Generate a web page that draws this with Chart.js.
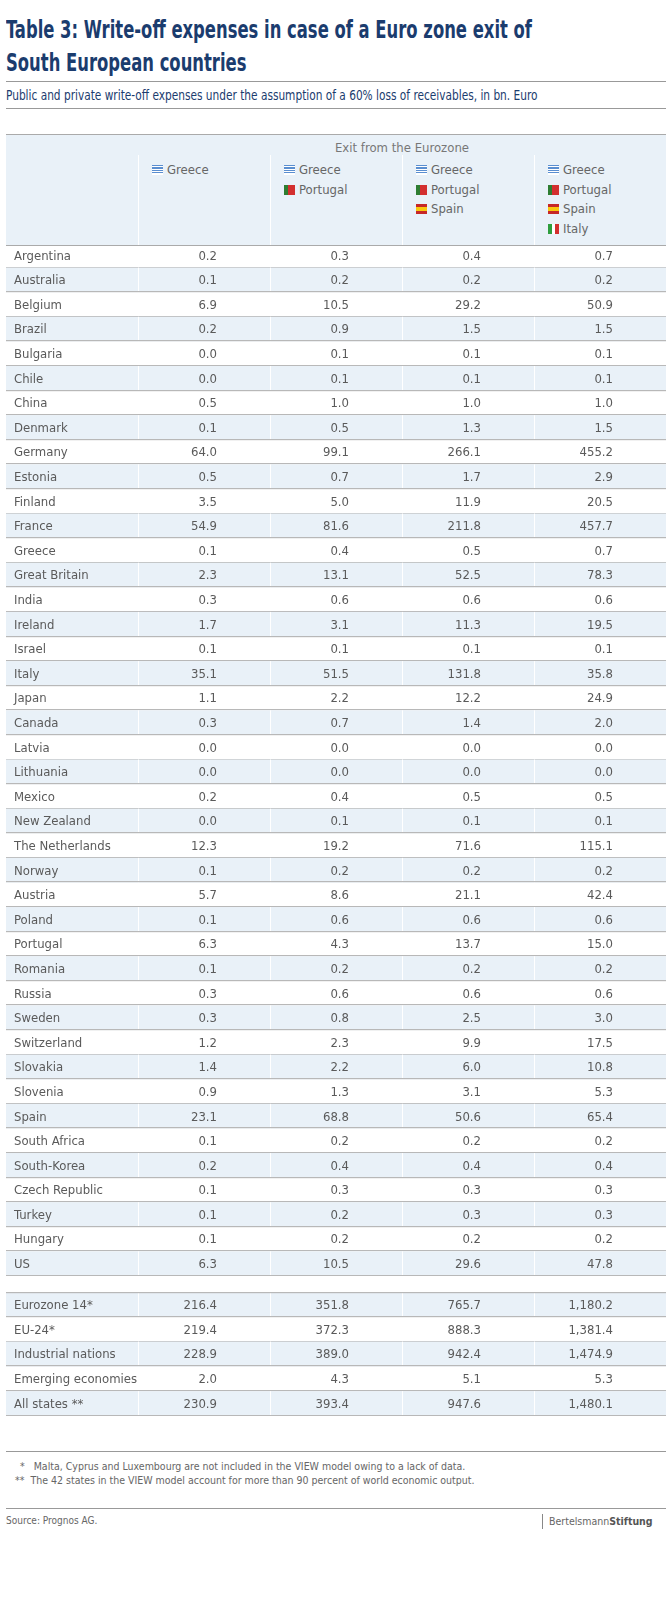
<!DOCTYPE html>
<html>
<head>
<meta charset="utf-8">
<script src="https://cdn.jsdelivr.net/npm/chart.js@4"></script>
<style>
  body { margin: 0; background: #fff; font-family: "DejaVu Sans Condensed", "Liberation Sans Narrow", Roboto, sans-serif; color: #555; }
  #page { position: relative; width: 669px; height: 1600px; overflow: hidden; }
  .abs { position: absolute; }
  h1 { position: absolute; left: 6px; top: 14px; margin: 0; font-size: 24px; line-height: 33px; color: #1b3c6e; font-weight: bold; white-space: nowrap; transform: scaleX(0.76); transform-origin: left top; }
  .rule { position: absolute; left: 6px; width: 660px; height: 0; border-top: 1px solid #999; }
  #sub { left: 6px; top: 87px; font-size: 14px; color: #1b3c6e; white-space: nowrap; transform: scaleX(0.84); transform-origin: left top; }
  #head { left: 6px; top: 134px; width: 660px; height: 110px; background: #e9f1f8; border-top: 1px solid #aaa; border-bottom: 1px solid #aaa; }
  #head .sep { position: absolute; top: 20px; bottom: 0; width: 1px; background: #fff; }
  #exit { left: 138px; width: 528px; top: 140px; text-align: center; font-size: 13px; color: #777; }
  .cell { position: absolute; font-size: 13px; color: #666; line-height: 19.5px; }
  .flag { display: inline-block; width: 11px; height: 10px; margin-right: 4px; vertical-align: -1px; }
  .gr { background: repeating-linear-gradient(#5a8ed0 0 1.2px, #fff 1.2px 2.4px); }
  .pt { background: linear-gradient(90deg, #2e7d32 0 40%, #d32f2f 40%); }
  .es { background: linear-gradient(#c62828 0 28%, #f9c80e 28% 72%, #c62828 72%); }
  .it { background: linear-gradient(90deg, #2e9e3e 0 33%, #fff 33% 66%, #d32f2f 66%); }
  .note { font-size: 10.5px; color: #666; }
</style>
</head>
<body>
<div id="page">
  <h1>Table 3: Write-off expenses in case of a Euro zone exit of<br>South European countries</h1>
  <div class="rule" style="top:81px"></div>
  <div id="sub" class="abs">Public and private write-off expenses under the assumption of a 60% loss of receivables, in bn. Euro</div>
  <div class="rule" style="top:108px"></div>
  <div id="head" class="abs">
    <div class="sep" style="left:132px"></div><div class="sep" style="left:264px"></div>
    <div class="sep" style="left:396px"></div><div class="sep" style="left:528px"></div>
  </div>
  <div id="exit" class="abs">Exit from the Eurozone</div>
  <div id="colheads"></div>
  <canvas class="abs" id="main" style="left:6px;top:243px"></canvas>
  <canvas class="abs" id="totals" style="left:6px;top:1292px"></canvas>
  <div class="rule" style="top:1451px"></div>
  <div class="abs note" style="left:20px;top:1460px">*&nbsp;&nbsp;&nbsp;Malta, Cyprus and Luxembourg are not included in the VIEW model owing to a lack of data.</div>
  <div class="abs note" style="left:15px;top:1474px">**&nbsp;&nbsp;The 42 states in the VIEW model account for more than 90 percent of world economic output.</div>
  <div class="rule" style="top:1508px"></div>
  <div class="abs note" style="left:6px;top:1515px;font-size:10px">Source: Prognos AG.</div>
  <div class="abs" style="left:542px;top:1514px;height:15px;border-left:1px solid #888"></div>
  <div class="abs" style="left:549px;top:1515px;font-size:10.5px;color:#666">Bertelsmann<b style="color:#555">Stiftung</b></div>
</div>
<script>
const columns = ['', 'Greece', 'Greece+Portugal', 'Greece+Portugal+Spain', 'Greece+Portugal+Spain+Italy']
const exitCountries = [['Greece'], ['Greece', 'Portugal'], ['Greece', 'Portugal', 'Spain'], ['Greece', 'Portugal', 'Spain', 'Italy']]
const flagClass = { Greece: 'gr', Portugal: 'pt', Spain: 'es', Italy: 'it' }

const countries = ['Argentina', 'Australia', 'Belgium', 'Brazil', 'Bulgaria', 'Chile', 'China', 'Denmark',
  'Germany', 'Estonia', 'Finland', 'France', 'Greece', 'Great Britain', 'India', 'Ireland', 'Israel',
  'Italy', 'Japan', 'Canada', 'Latvia', 'Lithuania', 'Mexico', 'New Zealand', 'The Netherlands',
  'Norway', 'Austria', 'Poland', 'Portugal', 'Romania', 'Russia', 'Sweden', 'Switzerland', 'Slovakia',
  'Slovenia', 'Spain', 'South Africa', 'South-Korea', 'Czech Republic', 'Turkey', 'Hungary', 'US']
const exitGreece = [0.2, 0.1, 6.9, 0.2, 0.0, 0.0, 0.5, 0.1, 64.0, 0.5, 3.5, 54.9, 0.1, 2.3, 0.3, 1.7, 0.1,
  35.1, 1.1, 0.3, 0.0, 0.0, 0.2, 0.0, 12.3, 0.1, 5.7, 0.1, 6.3, 0.1, 0.3, 0.3, 1.2, 1.4, 0.9, 23.1, 0.1,
  0.2, 0.1, 0.1, 0.1, 6.3]
const exitGrPt = [0.3, 0.2, 10.5, 0.9, 0.1, 0.1, 1.0, 0.5, 99.1, 0.7, 5.0, 81.6, 0.4, 13.1, 0.6, 3.1, 0.1,
  51.5, 2.2, 0.7, 0.0, 0.0, 0.4, 0.1, 19.2, 0.2, 8.6, 0.6, 4.3, 0.2, 0.6, 0.8, 2.3, 2.2, 1.3, 68.8, 0.2,
  0.4, 0.3, 0.2, 0.2, 10.5]
const exitGrPtEs = [0.4, 0.2, 29.2, 1.5, 0.1, 0.1, 1.0, 1.3, 266.1, 1.7, 11.9, 211.8, 0.5, 52.5, 0.6, 11.3,
  0.1, 131.8, 12.2, 1.4, 0.0, 0.0, 0.5, 0.1, 71.6, 0.2, 21.1, 0.6, 13.7, 0.2, 0.6, 2.5, 9.9, 6.0, 3.1,
  50.6, 0.2, 0.4, 0.3, 0.3, 0.2, 29.6]
const exitGrPtEsIt = [0.7, 0.2, 50.9, 1.5, 0.1, 0.1, 1.0, 1.5, 455.2, 2.9, 20.5, 457.7, 0.7, 78.3, 0.6, 19.5,
  0.1, 35.8, 24.9, 2.0, 0.0, 0.0, 0.5, 0.1, 115.1, 0.2, 42.4, 0.6, 15.0, 0.2, 0.6, 3.0, 17.5, 10.8, 5.3,
  65.4, 0.2, 0.4, 0.3, 0.3, 0.2, 47.8]

const groups = ['Eurozone 14*', 'EU-24*', 'Industrial nations', 'Emerging economies', 'All states **']
const groupGreece = [216.4, 219.4, 228.9, 2.0, 230.9]
const groupGrPt = [351.8, 372.3, 389.0, 4.3, 393.4]
const groupGrPtEs = [765.7, 888.3, 942.4, 5.1, 947.6]
const groupGrPtEsIt = [1180.2, 1381.4, 1474.9, 5.3, 1480.1]

// column headings with little flags
const heads = document.getElementById('colheads')
exitCountries.forEach((list, c) => {
  const d = document.createElement('div')
  d.className = 'cell'
  d.style.left = (6 + 132 * (c + 1) + 14) + 'px'
  d.style.top = '160px'
  d.innerHTML = list.map(n => '<span class="flag ' + flagClass[n] + '"></span>' + n).join('<br>')
  heads.appendChild(d)
})

const fmt = v => v.toLocaleString('en-US', { minimumFractionDigits: 1, maximumFractionDigits: 1 })

const tablePlugin = {
  id: 'table',
  beforeDraw(chart) {
    const { ctx } = chart
    const x = chart.scales.x, y = chart.scales.y
    const rowH = y.height / chart.data.labels.length
    const colW = x.width / columns.length
    const opts = chart.options.plugins.table
    chart.data.labels.forEach((lab, i) => {
      const cy = y.getPixelForValue(i)
      const top = cy - rowH / 2
      if (i % 2 === opts.shadeOdd) {
        ctx.fillStyle = '#e9f1f8'
        ctx.fillRect(x.left, top, x.width, rowH)
        ctx.fillStyle = '#fff'
        for (let c = 1; c < columns.length; c++) {
          ctx.fillRect(x.getPixelForValue(c) - colW / 2, top, 1, rowH)
        }
      }
      ctx.fillStyle = '#b8b8b8'
      ctx.fillRect(x.left, Math.round(top + rowH) - 1, x.width, 1.2)
      if (i === 0 && opts.topLine) ctx.fillRect(x.left, top, x.width, 1.2)
    })
  },
  afterDraw(chart) {
    const { ctx } = chart
    const x = chart.scales.x, y = chart.scales.y
    const colW = x.width / columns.length
    ctx.font = '13px "DejaVu Sans Condensed", "Liberation Sans Narrow", Roboto, sans-serif'
    ctx.fillStyle = '#5a5a5a'
    ctx.textBaseline = 'middle'
    chart.data.labels.forEach((lab, i) => {
      const cy = y.getPixelForValue(i) + 1
      ctx.textAlign = 'left'
      ctx.fillText(lab, x.getPixelForValue(0) - colW / 2 + 8, cy)
      ctx.textAlign = 'right'
      chart.data.datasets.forEach((ds, c) => {
        ctx.fillText(fmt(ds.data[i]), x.getPixelForValue(c + 1) + 13, cy)
      })
    })
  }
}

function makeTable(id, labels, series, h, shadeOdd, topLine) {
  const el = document.getElementById(id)
  el.width = 660
  el.height = h
  el.style.width = '660px'
  el.style.height = h + 'px'
  return new Chart(el, {
    type: 'bar',
    data: {
      labels: labels,
      datasets: series.map(s => ({ data: s, backgroundColor: 'rgba(0,0,0,0)' }))
    },
    options: {
      indexAxis: 'y',
      responsive: false,
      animation: false,
      maintainAspectRatio: false,
      layout: { padding: 0 },
      events: [],
      scales: {
        x: { type: 'category', labels: columns, offset: true, display: false },
        y: { type: 'category', offset: true, display: false }
      },
      plugins: { legend: { display: false }, tooltip: { enabled: false }, table: { shadeOdd, topLine } }
    },
    plugins: [tablePlugin]
  })
}

makeTable('main', countries, [exitGreece, exitGrPt, exitGrPtEs, exitGrPtEsIt], 1033, 1, false)
makeTable('totals', groups, [groupGreece, groupGrPt, groupGrPtEs, groupGrPtEsIt], 124, 0, true)
</script>
</body>
</html>
